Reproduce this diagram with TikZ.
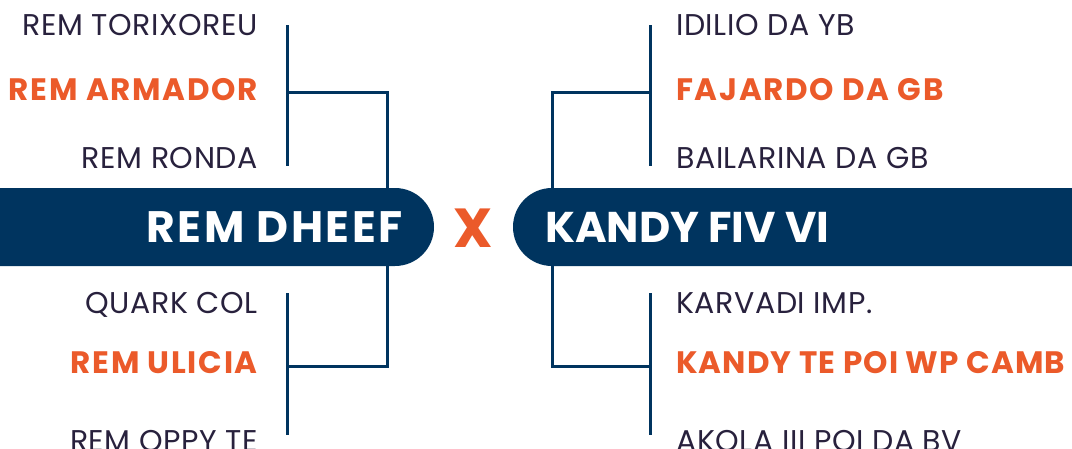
\documentclass[tikz,border=0pt]{standalone}
\usepackage{fontspec}
\setmainfont{Poppins}
\definecolor{navy}{HTML}{00345F}
\definecolor{flame}{HTML}{EB5A2A}
\definecolor{ink}{HTML}{28213D}
\begin{document}
\begin{tikzpicture}[x=1pt,y=-1pt,
 entrant/.style={inner sep=0pt,text=ink,font=\fontsize{30}{30}\selectfont\addfontfeature{LetterSpace=2}},
 winner/.style={inner sep=0pt,text=flame,font=\fontsize{31}{31}\selectfont\bfseries\addfontfeature{LetterSpace=5.5}},
 finalist/.style={inner sep=0pt,text=white,font=\fontsize{44}{44}\selectfont\bfseries},
 bracket/.style={line width=3pt,navy}]
\useasboundingbox (0,0) rectangle (1072,448);
% brackets
\coordinate (lspine1) at (287,25);
\coordinate (lspine2) at (287,166);
\coordinate (lspine3) at (287,293);
\coordinate (lspine4) at (287,435);
\coordinate (rspine1) at (650,25);
\coordinate (rspine2) at (650,166);
\coordinate (rspine3) at (650,293);
\coordinate (rspine4) at (650,435);
\draw[bracket] (lspine1) -- (lspine2);
\draw[bracket] (lspine3) -- (lspine4);
\draw[bracket] (rspine1) -- (rspine2);
\draw[bracket] (rspine3) -- (rspine4);
\draw[bracket] (287,92) -| (387,366) -- (287,366);
\draw[bracket] (650,92) -| (552,366) -- (650,366);
% bars
\fill[navy,rounded corners=39pt] (-60,188) rectangle (434,266);
\fill[navy,rounded corners=39pt] (513,188) rectangle (1130,266);
\node[finalist,anchor=base east,font=\fontsize{44}{44}\selectfont\bfseries\addfontfeature{LetterSpace=6}] (home) at (403,242) {REM DHEEF};
\node[finalist,anchor=base west,font=\fontsize{43}{43}\selectfont\bfseries] (away) at (545,242) {KANDY FIV VI};
\node[inner sep=0pt,anchor=base,text=flame,font=\fontsize{55}{55}\selectfont\bfseries] (versus) at (473.5,247) {X};
% left side
\node[entrant,anchor=base east] (l1) at (258,35) {REM TORIXOREU};
\node[winner,anchor=base east] (l2) at (258,100) {REM ARMADOR};
\node[entrant,anchor=base east] (l3) at (258,168) {REM RONDA};
\node[entrant,anchor=base east] (l4) at (258,313) {QUARK COL};
\node[winner,anchor=base east] (l5) at (258,373) {REM ULICIA};
\node[entrant,anchor=base east] (l6) at (258,451) {REM OPPY TE};
% right side
\node[entrant,anchor=base west] (r1) at (676,35) {IDILIO DA YB};
\node[winner,anchor=base west] (r2) at (676,100) {FAJARDO DA GB};
\node[entrant,anchor=base west] (r3) at (676,168) {BAILARINA DA GB};
\node[entrant,anchor=base west] (r4) at (676,313) {KARVADI IMP.};
\node[winner,anchor=base west,font=\fontsize{31}{31}\selectfont\bfseries\addfontfeature{LetterSpace=3.5}] (r5) at (676,373) {KANDY TE POI WP CAMB};
\node[entrant,anchor=base west] (r6) at (676,451) {AKOLA III POI DA BV};
\end{tikzpicture}
\end{document}
